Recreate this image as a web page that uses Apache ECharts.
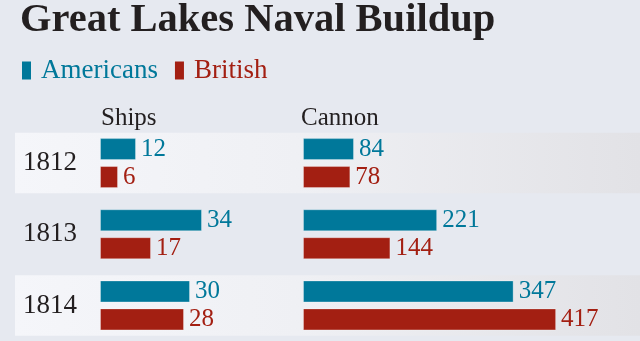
<!DOCTYPE html>
<html><head><meta charset="utf-8">
<script src="https://cdn.jsdelivr.net/npm/echarts@6/dist/echarts.min.js"></script>
<style>html,body{margin:0;padding:0;background:#e6e9f0}#c{width:640px;height:341px}</style>
</head><body><div id="c"></div>
<script>
const years = ['1812', '1813', '1814'];
const shipsAmericans = [12, 34, 30];
const shipsBritish = [6, 17, 28];
const cannonAmericans = [84, 221, 347];
const cannonBritish = [78, 144, 417];
const bandYears = ['1812', '1814'];
const seriesNames = ['Americans', 'British'];
const panelTitles = ['Ships', 'Cannon'];
const chartTitle = 'Great Lakes Naval Buildup';

const colors = { Americans: '#00789a', British: '#a31f12' };
const serif = '"Liberation Serif", "DejaVu Serif", serif';
const ink = '#231f20';

const chart = echarts.init(document.getElementById('c'), null, { renderer: 'canvas' });
const gridTop = 127.5, gridH = 219;

function barSeries(name, data, idx) {
  return {
    type: 'bar', name: name, data: data, xAxisIndex: idx, yAxisIndex: idx,
    barWidth: 22, barGap: '27%',
    itemStyle: { color: colors[name], borderColor: 'rgba(255,255,255,0.3)', borderWidth: 1 },
    label: { show: true, position: 'right', distance: 5, color: colors[name], fontFamily: serif, fontSize: 25 },
    emphasis: { disabled: true }, z: 3
  };
}

const bandSeries = {
  type: 'custom', name: 'bands', xAxisIndex: 0, yAxisIndex: 0, z: 0, zlevel: 0, silent: true,
  data: bandYears.map(y => [0, y]),
  encode: { x: 0, y: 1 },
  renderItem: function (params, api) {
    const c = api.coord([0, api.value(1)]);
    const h = api.size([0, 1])[1] * 0.85;
    return {
      type: 'rect',
      shape: { x: 15, y: c[1] - h / 2, width: 625, height: h },
      style: {
        fill: new echarts.graphic.LinearGradient(0, 0, 1, 0, [
          { offset: 0, color: '#f5f6fa' },
          { offset: 0.45, color: '#eff0f4' },
          { offset: 1, color: '#e2e2e6' }
        ])
      }
    };
  }
};

const option = {
  backgroundColor: '#e6e9f0',
  animation: false,
  title: [
    { text: chartTitle, left: 20, top: 0, padding: 0, textStyle: { fontFamily: serif, fontSize: 40.5, fontWeight: 'bold', color: ink } },
    { text: panelTitles[0], left: 101, top: 106, padding: 0, textStyle: { fontFamily: serif, fontSize: 25, fontWeight: 'normal', color: ink } },
    { text: panelTitles[1], left: 301, top: 106, padding: 0, textStyle: { fontFamily: serif, fontSize: 25, fontWeight: 'normal', color: ink } }
  ],
  legend: {
    left: 22, top: 57, padding: 0, icon: 'rect', itemWidth: 9, itemHeight: 18, itemGap: 17, selectedMode: false,
    itemStyle: { borderWidth: 0 },
    data: seriesNames.map(n => ({ name: n, textStyle: { color: colors[n] } })),
    textStyle: { fontFamily: serif, fontSize: 27, padding: [0, 0, 0, 5] }
  },
  grid: [
    { left: 100, top: gridTop, width: 180, height: gridH },
    { left: 303, top: gridTop, width: 303.5, height: gridH }
  ],
  xAxis: [
    { type: 'value', gridIndex: 0, min: 0, max: 60, show: false },
    { type: 'value', gridIndex: 1, min: 0, max: 500, show: false }
  ],
  yAxis: [
    { type: 'category', gridIndex: 0, data: years, inverse: true, z: 10,
      axisLine: { show: false }, axisTick: { show: false },
      axisLabel: { align: 'left', margin: 77, fontFamily: serif, fontSize: 27, color: ink } },
    { type: 'category', gridIndex: 1, data: years, inverse: true, show: false }
  ],
  series: [
    bandSeries,
    barSeries('Americans', shipsAmericans, 0),
    barSeries('British', shipsBritish, 0),
    barSeries('Americans', cannonAmericans, 1),
    barSeries('British', cannonBritish, 1)
  ]
};
chart.setOption(option);
</script></body></html>
